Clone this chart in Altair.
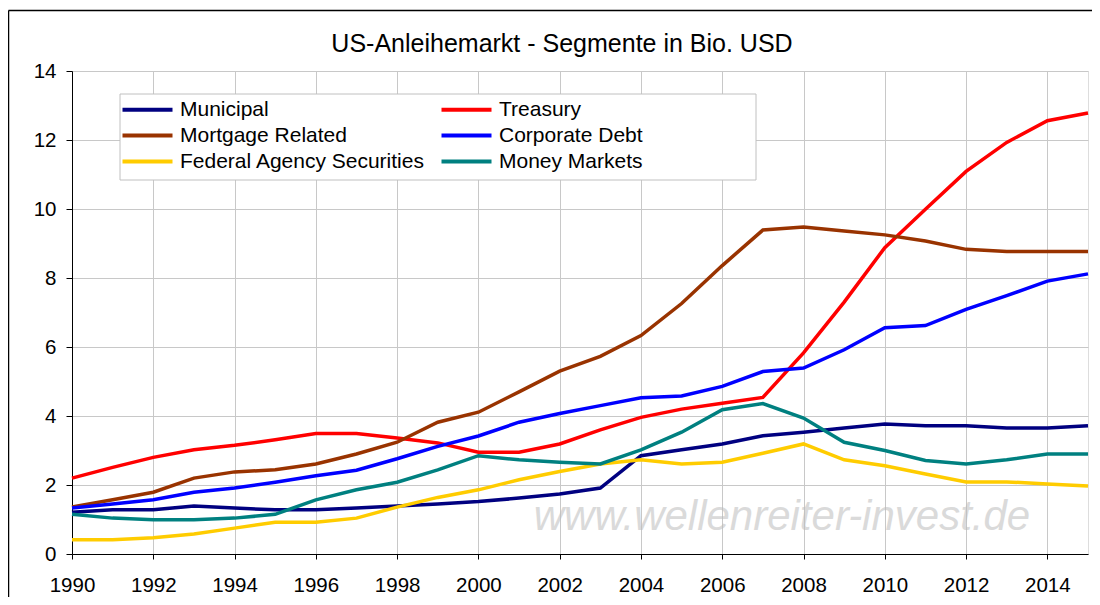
import altair as alt
import pandas as pd

years = list(range(1990, 2016))

series_names = ["Municipal", "Treasury", "Mortgage Related", "Corporate Debt",
                "Federal Agency Securities", "Money Markets"]
series_colors = ["#000080", "#FF0000", "#993300", "#0000FF", "#FFCC00", "#008080"]
# legend fills column by column
legend_order = ["Municipal", "Mortgage Related", "Federal Agency Securities",
                "Treasury", "Corporate Debt", "Money Markets"]

municipal = [1.21, 1.28, 1.28, 1.39, 1.33, 1.28, 1.28, 1.33, 1.39, 1.45,
             1.52, 1.62, 1.74, 1.91, 2.85, 3.02, 3.19, 3.43, 3.53, 3.65,
             3.77, 3.72, 3.72, 3.65, 3.65, 3.72]
treasury = [2.20, 2.51, 2.80, 3.02, 3.15, 3.31, 3.49, 3.49, 3.36, 3.22,
            2.95, 2.95, 3.19, 3.60, 3.96, 4.20, 4.37, 4.54, 5.83, 7.30,
            8.88, 9.99, 11.09, 11.93, 12.56, 12.78]
mortgage = [1.36, 1.57, 1.79, 2.20, 2.38, 2.44, 2.61, 2.90, 3.24, 3.82,
            4.11, 4.70, 5.30, 5.73, 6.33, 7.26, 8.36, 9.39, 9.48, 9.36,
            9.25, 9.07, 8.83, 8.77, 8.77, 8.77]
corporate = [1.33, 1.45, 1.57, 1.79, 1.91, 2.08, 2.27, 2.43, 2.76, 3.12,
             3.42, 3.82, 4.07, 4.30, 4.53, 4.58, 4.86, 5.29, 5.39, 5.92,
             6.56, 6.62, 7.09, 7.49, 7.91, 8.12]
federal = [0.41, 0.41, 0.47, 0.58, 0.75, 0.92, 0.92, 1.04, 1.36, 1.64,
           1.86, 2.15, 2.39, 2.61, 2.73, 2.61, 2.66, 2.92, 3.19, 2.73,
           2.56, 2.32, 2.09, 2.09, 2.03, 1.97]
money = [1.15, 1.04, 0.99, 0.99, 1.04, 1.15, 1.57, 1.86, 2.08, 2.44,
         2.85, 2.73, 2.66, 2.61, 3.02, 3.53, 4.18, 4.36, 3.94, 3.24,
         3.00, 2.71, 2.61, 2.73, 2.90, 2.90]

y_ticks = [0, 2, 4, 6, 8, 10, 12, 14]
x_ticks = list(range(1990, 2015, 2))

title_text = "US-Anleihemarkt - Segmente in Bio. USD"
watermark_text = "www.wellenreiter-invest.de"

rows = []
for name, vals in zip(series_names, [municipal, treasury, mortgage, corporate, federal, money]):
    for yr, v in zip(years, vals):
        rows.append({"Jahr": yr, "Wert": v, "Segment": name})
df = pd.DataFrame(rows)

FONT = "Liberation Sans"
one = pd.DataFrame({"k": [0]})

frame_top = alt.Chart(one).mark_rule(stroke="black", strokeWidth=1.5).encode(
    x=alt.value(-63.5), x2=alt.value(1028), y=alt.value(-60.5)
)
frame_left = alt.Chart(one).mark_rule(stroke="black", strokeWidth=1.5).encode(
    x=alt.value(-63.5), y=alt.value(-60.5), y2=alt.value(540)
)
edge_mask = alt.Chart(one).mark_rule(stroke="white", strokeWidth=3).encode(
    x=alt.value(1019.5), y=alt.value(-59), y2=alt.value(540)
)

legend_box = alt.Chart(one).mark_rect(fill="white", stroke="#c0c0c0", strokeWidth=1).encode(
    x=alt.value(48), x2=alt.value(684), y=alt.value(23), y2=alt.value(109)
)

title = alt.Chart(one).mark_text(
    text=title_text, font=FONT, fontSize=25, color="black",
    align="center", baseline="alphabetic"
).encode(x=alt.value(490), y=alt.value(-19))

watermark = alt.Chart(one).mark_text(
    text=watermark_text, font=FONT, fontSize=42, fontStyle="italic",
    color="#bcbcbc", opacity=0.55, align="center", baseline="alphabetic"
).encode(x=alt.value(710), y=alt.value(459))

lines = alt.Chart(df).mark_line(strokeWidth=3.5).encode(
    x=alt.X("Jahr:Q", scale=alt.Scale(domain=[1990, 2015], nice=False, zero=False),
            axis=alt.Axis(values=x_ticks, format="d", title=None, tickSize=5,
                          labelPadding=16, grid=True, labelFont=FONT, labelFontSize=20.5,
                          labelColor="black", domainColor="black", tickColor="black",
                          gridColor="#c8c8c8", labelFlush=False, labelOverlap=False)),
    y=alt.Y("Wert:Q", scale=alt.Scale(domain=[0, 14], nice=False),
            axis=alt.Axis(values=y_ticks, title=None, tickSize=6, labelPadding=10, grid=True,
                          labelFont=FONT, labelFontSize=20.5, labelColor="black",
                          domainColor="black", tickColor="black", gridColor="#c8c8c8",
                          labelFlush=False, labelOverlap=False)),
    color=alt.Color("Segment:N", sort=legend_order,
                    scale=alt.Scale(domain=legend_order,
                                    range=[series_colors[series_names.index(n)] for n in legend_order]),
                    legend=alt.Legend(orient="none", legendX=65, legendY=28, columns=2,
                                      title=None, symbolType="M-5,0H5", symbolStrokeWidth=4,
                                      symbolSize=100, labelFontSize=21, labelFont=FONT,
                                      labelColor="black", columnPadding=7, rowPadding=4,
                                      labelOffset=22, labelLimit=500, padding=0)),
)

chart = alt.layer(frame_top, frame_left, legend_box, title, watermark, lines, edge_mask).properties(
    width=1016, height=483,
    autosize=alt.AutoSizeParams(type="none"),
    padding={"left": 64, "top": 63, "right": 4, "bottom": 43},
).configure_view(stroke="#c0c0c0", strokeWidth=1.5).configure(background="white")

chart.save("out.html", embed_options={"renderer": "svg", "actions": False})
